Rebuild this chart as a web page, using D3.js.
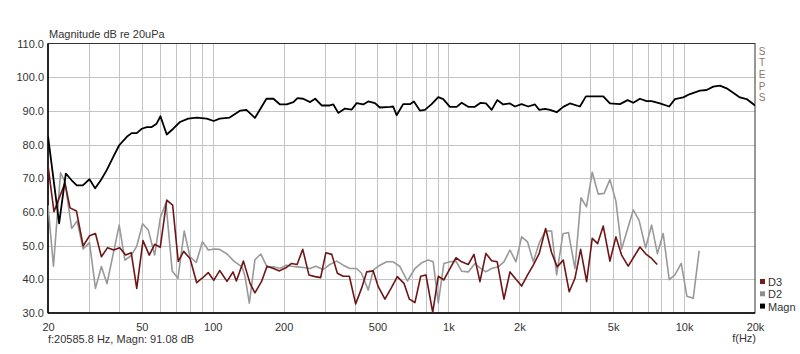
<!DOCTYPE html>
<html lang="en">
<head>
<meta charset="UTF-8">
<title>Magnitude dB re 20uPa</title>
<script src="https://d3js.org/d3.v7.min.js"></script>
<style>
  body { margin: 0; background: #fff; }
  svg text { font-family: "Liberation Sans", Arial, sans-serif; font-size: 11px; fill: #333; }
  .grid line { stroke: #c4c4c4; stroke-width: 1; }
  .curve { fill: none; stroke-linejoin: round; }
</style>
</head>
<body>
<div id="chart"></div>
<script>
// values
const magnFreq = [20, 22.3, 23.8, 25.2, 26.5, 28.1, 30, 31.7, 33.5, 35.5, 37.8, 40.1, 43.2, 45.3, 47.6, 50, 52.5, 55.1, 57.8, 60, 63.8, 68, 72.6, 78.7, 85.5, 94.3, 101, 107, 118, 131, 139, 151, 169, 181, 193, 206, 220, 229, 242, 259, 272, 290, 314, 325, 341, 364, 389, 408, 435, 457, 488, 512, 565, 583, 603, 643, 687, 714, 757, 795, 849, 906, 951, 1015, 1084, 1138, 1214, 1296, 1370, 1443, 1526, 1611, 1709, 1825, 1916, 2045, 2182, 2330, 2430, 2568, 2698, 2880, 3072, 3279, 3615, 3834, 4118, 4540, 4847, 5346, 5763, 6088, 6498, 6938, 7285, 7900, 8650, 9146, 9921, 10590, 11680, 12470, 13300, 14200, 15160, 16160, 17260, 18430, 20000];
const magnDb = [82.5, 56.6, 71.4, 69.4, 67.9, 67.9, 69.7, 67, 69.4, 72.4, 76.3, 79.8, 82.3, 83.4, 83.4, 84.7, 85.2, 85.2, 86.2, 88.4, 83, 84.7, 86.7, 87.7, 88, 87.7, 87, 87.7, 88, 90.1, 90.3, 87.9, 93.6, 93.6, 91.9, 91.9, 92.6, 93.8, 93.6, 92.6, 93.6, 91.6, 91.6, 91.9, 89.4, 90.7, 90.4, 92.3, 91.9, 92.8, 92.3, 91, 91.2, 91.3, 88.7, 92, 92, 92.8, 90.1, 90.3, 92, 94.1, 93.5, 91.2, 91.2, 92.4, 91.2, 91.2, 92.4, 92.2, 90.3, 93.2, 91.9, 92.2, 91.3, 92, 91.3, 91.9, 90.3, 90.6, 90.3, 89.6, 91.2, 92.2, 91.3, 94.3, 94.3, 94.3, 92.2, 92, 93.2, 92.4, 93.6, 92.9, 92.9, 92.2, 91.3, 93.5, 94, 95, 96, 96.2, 97.2, 97.5, 96.7, 95.4, 94, 93.5, 91.6];

const d3Freq = [20, 21.2, 23.6, 24.8, 26.4, 28.2, 30, 31.8, 33.7, 35.8, 38, 40.3, 42.7, 45.1, 47.6, 50.6, 53.8, 56.7, 59.9, 63.8, 67.6, 71.4, 75.3, 80.1, 85.5, 90.5, 95.7, 101, 107, 115, 122, 126, 135, 144, 151, 161, 170, 181, 192, 205, 216, 228, 241, 256, 272, 287, 302, 320, 338, 358, 380, 404, 428, 450, 480, 504, 538, 574, 607, 648, 683, 721, 763, 803, 858, 906, 957, 1015, 1077, 1138, 1214, 1284, 1361, 1443, 1526, 1611, 1721, 1825, 1935, 2045, 2168, 2292, 2430, 2586, 2742, 2896, 3072, 3256, 3444, 3640, 3860, 4078, 4298, 4540, 4847, 5138, 5432, 5794, 6128, 6498, 6888, 7285, 7694];
const d3Db = [73.8, 60.1, 68.6, 61.2, 60.3, 49.9, 52.9, 53.6, 46.7, 49.4, 48.7, 49.4, 47.2, 47.9, 37.3, 51.5, 47.2, 50.4, 49.5, 63.5, 62, 45.3, 48.3, 46.2, 39, 40.4, 42, 39.7, 42.6, 39.4, 42.2, 39.5, 45.4, 38.8, 36, 39.3, 43.9, 43.2, 42.5, 43.5, 44.7, 44.4, 48.9, 41.3, 40.8, 40.5, 47.9, 47.4, 41.8, 40.9, 40.9, 32.7, 37.3, 42.2, 42.5, 37.8, 34.1, 37.6, 40.8, 38.8, 34.1, 33.1, 40.9, 41.3, 30.2, 40.9, 39.8, 43.2, 46.4, 45.2, 44.4, 47.4, 39.3, 47.7, 45.5, 45.2, 34.1, 42.2, 40, 38, 41.3, 44.2, 47.7, 55.1, 47.9, 43.7, 45.7, 36.3, 40.3, 48.9, 39.3, 52.2, 50.6, 55.8, 45.4, 52.6, 47.2, 43.9, 46.7, 49.6, 47.5, 46.2, 44.4];

const d2Freq = [20, 21.1, 22.6, 23.6, 25.2, 26.6, 28.2, 30, 31.8, 33.7, 35.6, 37.8, 40.1, 42.4, 45, 47.6, 50.4, 53.3, 56.7, 59.9, 63.3, 67.3, 71.2, 75.7, 80.1, 85.1, 90.5, 95.7, 102, 107, 115, 123, 133, 137, 143, 151, 160, 170, 181, 193, 205, 216, 228, 242, 259, 274, 294, 314, 336, 358, 382, 408, 428, 457, 480, 512, 547, 583, 623, 670, 721, 770, 821, 862, 906, 957, 1015, 1077, 1138, 1214, 1296, 1361, 1443, 1526, 1627, 1721, 1825, 1935, 2045, 2168, 2292, 2430, 2580, 2742, 2880, 3062, 3232, 3444, 3652, 3854, 4078, 4322, 4578, 4847, 5138, 5432, 5763, 6088, 6446, 6868, 7285, 7708, 8156, 8650, 9146, 9728, 10280, 10940, 11590];
const d2Db = [62, 43.9, 71.6, 68.9, 55.1, 57.3, 49, 50.9, 37.3, 43.8, 38.7, 47.5, 56.1, 45.7, 47, 49.8, 56.5, 54.6, 47.2, 58.2, 62.7, 42.5, 40.3, 54.3, 46.7, 45, 51.2, 48.7, 49, 48.9, 47.5, 45.4, 43.7, 41, 32.9, 45.8, 47.5, 43.7, 43.7, 43.2, 44.2, 43.9, 43.7, 43.5, 43.2, 43.9, 42.9, 44.4, 45.4, 44.2, 43.2, 43.2, 41.8, 36.8, 42.7, 44.2, 45.2, 45.2, 43.8, 39.5, 43.2, 44.9, 45.7, 45.2, 33, 44.7, 45.2, 45.4, 42.4, 42.2, 44.7, 43.4, 42.2, 43.2, 43.7, 45.2, 48.7, 45.2, 52.6, 51.1, 45.2, 50.8, 54.4, 54.3, 41.3, 53.5, 53.9, 43.2, 64.2, 61.5, 71.8, 65.3, 65.5, 69.6, 63.2, 49, 55, 60.6, 57.5, 49.3, 56.1, 47.6, 53.6, 39.9, 41.3, 44.7, 35, 34.4, 48.5];

const yTicks = [30, 40, 50, 60, 70, 80, 90, 100, 110];
const xTicks = [20, 50, 100, 200, 500, 1000, 2000, 5000, 10000, 20000];
const xTickLabels = ["20", "50", "100", "200", "500", "1k", "2k", "5k", "10k", "20k"];
const gridFreqs = [30, 40, 50, 60, 70, 80, 90, 100, 200, 300, 400, 500, 600, 700, 800, 900,
                   1000, 2000, 3000, 4000, 5000, 6000, 7000, 8000, 9000, 10000];
const legendNames = ["D3", "D2", "Magn"];
const legendColors = ["#7b1c1c", "#8e8e8e", "#000000"];

const W = 800, H = 354;
const plot = {left: 48, right: 755, top: 43.5, bottom: 313};

const x = d3.scaleLog().domain([20, 20000]).range([plot.left, plot.right]);
const y = d3.scaleLinear().domain([30, 110]).range([plot.bottom, plot.top]);

const svg = d3.select("#chart").append("svg")
    .attr("width", W).attr("height", H);

svg.append("defs").append("clipPath").attr("id", "plotclip")
  .append("rect").attr("x", plot.left).attr("y", plot.top)
  .attr("width", plot.right - plot.left).attr("height", plot.bottom - plot.top);

// grid
const grid = svg.append("g").attr("class", "grid");
grid.selectAll(".v").data(gridFreqs).join("line")
    .attr("x1", d => Math.round(x(d)) + 0.5).attr("x2", d => Math.round(x(d)) + 0.5)
    .attr("y1", plot.top).attr("y2", plot.bottom);
grid.selectAll(".h").data(yTicks.slice(1, -1)).join("line")
    .attr("x1", plot.left).attr("x2", plot.right)
    .attr("y1", d => Math.round(y(d)) + 0.5).attr("y2", d => Math.round(y(d)) + 0.5);

// frame
svg.append("rect").attr("x", plot.left).attr("y", plot.top)
    .attr("width", plot.right - plot.left).attr("height", plot.bottom - plot.top)
    .attr("fill", "none").attr("stroke", "#333").attr("stroke-width", 1);
svg.append("line").attr("x1", plot.left).attr("x2", plot.left)
    .attr("y1", plot.top).attr("y2", plot.bottom)
    .attr("stroke", "#000").attr("stroke-width", 1.5);
svg.append("line").attr("x1", plot.left).attr("x2", plot.right)
    .attr("y1", plot.bottom).attr("y2", plot.bottom)
    .attr("stroke", "#000").attr("stroke-width", 1.5);

// axes (labels only)
const yAxis = svg.append("g")
    .attr("transform", `translate(${plot.left - 4},0)`)
    .call(d3.axisLeft(y).tickValues(yTicks).tickSize(0).tickFormat(d3.format(".1f")));
yAxis.select(".domain").remove();
yAxis.selectAll("text").attr("x", 0).style("font-size", "11px").attr("fill", "#333");

const xAxis = svg.append("g")
    .attr("transform", `translate(0,${plot.bottom + 7})`)
    .call(d3.axisBottom(x).tickValues(xTicks).tickSize(0)
      .tickFormat((d, i) => xTickLabels[i]));
xAxis.select(".domain").remove();
xAxis.selectAll("text").style("font-size", "11px").attr("fill", "#333");

// curves
const line = d3.line().x(d => x(d[0])).y(d => y(d[1]));
const curves = svg.append("g").attr("clip-path", "url(#plotclip)");
curves.append("path").attr("class", "curve")
    .datum(d2Freq.map((f, i) => [f, d2Db[i]]))
    .attr("d", line).attr("stroke", "#999").attr("stroke-width", 1.6);
curves.append("path").attr("class", "curve")
    .datum(d3Freq.map((f, i) => [f, d3Db[i]]))
    .attr("d", line).attr("stroke", "#6e1515").attr("stroke-width", 1.6);
curves.append("path").attr("class", "curve")
    .datum(magnFreq.map((f, i) => [f, magnDb[i]]))
    .attr("d", line).attr("stroke", "#000").attr("stroke-width", 1.8);

// texts
svg.append("text").attr("x", 49).attr("y", 38).text("Magnitude dB re 20uPa");
svg.append("text").attr("x", 48).attr("y", 343).text("f:20585.8 Hz, Magn: 91.08 dB");
svg.append("text").attr("x", 756).attr("y", 342).attr("text-anchor", "end").text("f(Hz)");

// vertical "STEPS", one letter per line
svg.append("g").selectAll("text").data("STEPS".split("")).join("text")
    .attr("x", 762).attr("y", (d, i) => 54.5 + i * 11.7)
    .attr("text-anchor", "middle")
    .style("font-size", "10px").style("fill", "#8a776c")
    .text(d => d);

// legend
const lg = svg.append("g").selectAll("g").data(legendNames).join("g")
    .attr("transform", (d, i) => `translate(760,${282 + i * 12.3})`);
lg.append("rect").attr("x", 0).attr("y", -3).attr("width", 5).attr("height", 5)
    .attr("fill", (d, i) => legendColors[i]);
lg.append("text").attr("x", 8).attr("y", 4).text(d => d);
</script>
</body>
</html>
